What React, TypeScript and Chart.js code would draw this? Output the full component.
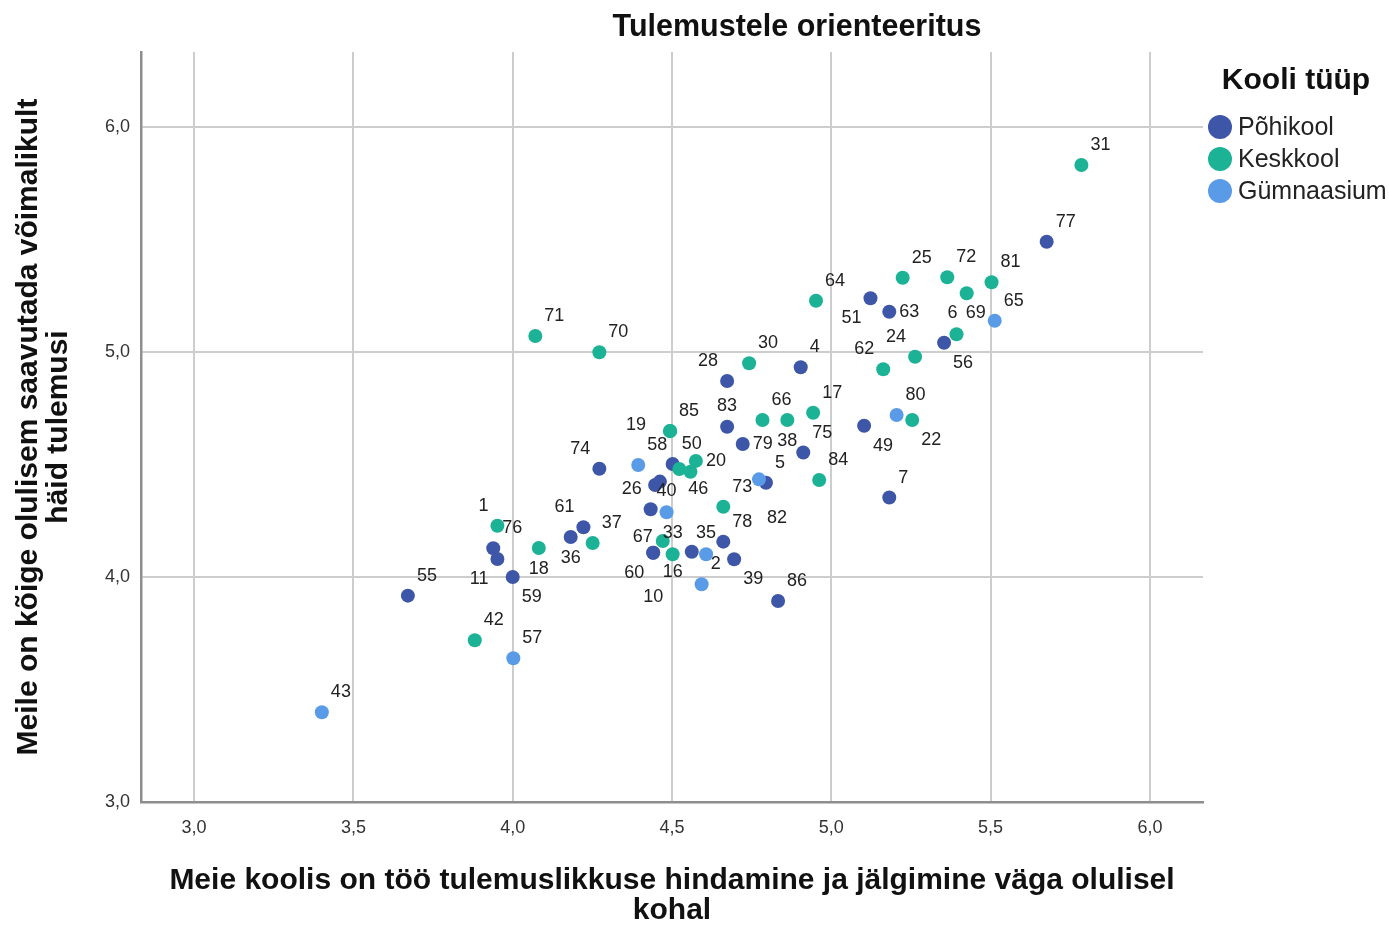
import React, { useEffect, useRef } from 'react';
import { Chart, registerables } from 'chart.js';

Chart.register(...registerables);

// ---------- DATA ----------
const chartTitle = 'Tulemustele orienteeritus';
const xAxisTitle = ['Meie koolis on töö tulemuslikkuse hindamine ja jälgimine väga olulisel', 'kohal'];
const yAxisTitle = ['Meile on kõige olulisem saavutada võimalikult', 'häid tulemusi'];
const legendTitle = 'Kooli tüüp';
const seriesNames = ['Põhikool', 'Keskkool', 'Gümnaasium'];

const xTickValues = [3.0, 3.5, 4.0, 4.5, 5.0, 5.5, 6.0];
const yTickValues = [3.0, 4.0, 5.0, 6.0];

// Põhikool
const pohikoolIds = ['55', '76', '11', '59', '36', '61', '74', '50', '', '', '26', '60', '10', '16', '78', '39', '86', '28', '83', '79', '4', '75', '5', '49', '7', '51', '63', '56', '77'];
const pohikoolX = [3.671, 3.939, 3.952, 4.0, 4.182, 4.222, 4.272, 4.502, 4.447, 4.462, 4.433, 4.441, 4.441, 4.562, 4.661, 4.695, 4.833, 4.673, 4.673, 4.722, 4.904, 4.912, 4.795, 5.103, 5.182, 5.123, 5.182, 5.354, 5.676];
const pohikoolY = [3.917, 4.128, 4.08, 4.0, 4.178, 4.221, 4.481, 4.502, 4.409, 4.424, 4.301, 4.108, 4.108, 4.112, 4.157, 4.079, 3.893, 4.871, 4.668, 4.591, 4.932, 4.553, 4.419, 4.672, 4.353, 5.239, 5.179, 5.041, 5.49];

// Keskkool
const keskkoolIds = ['42', '1', '18', '37', '71', '70', '85', '19', '46', '', '20', '67', '33', '73', '66', '38', '17', '84', '30', '64', '25', '72', '69', '81', '6', '24', '62', '22', '31'];
const keskkoolX = [3.881, 3.952, 4.082, 4.251, 4.071, 4.272, 4.494, 4.494, 4.523, 4.558, 4.575, 4.471, 4.502, 4.661, 4.784, 4.862, 4.943, 4.962, 4.742, 4.952, 5.224, 5.364, 5.425, 5.503, 5.393, 5.263, 5.163, 5.254, 5.785];
const keskkoolY = [3.719, 4.228, 4.129, 4.151, 5.071, 4.999, 4.649, 4.649, 4.48, 4.468, 4.516, 4.16, 4.101, 4.312, 4.698, 4.698, 4.73, 4.431, 4.95, 5.228, 5.33, 5.332, 5.261, 5.31, 5.079, 4.979, 4.923, 4.698, 5.831];

// Gümnaasium
const gymnaasiumIds = ['43', '57', '58', '40', '35', '2', '82', '80', '65'];
const gymnaasiumX = [3.401, 4.002, 4.394, 4.483, 4.607, 4.593, 4.773, 5.205, 5.513];
const gymnaasiumY = [3.399, 3.639, 4.498, 4.288, 4.101, 3.968, 4.434, 4.72, 5.139];

// ---------- LAYOUT / STYLE ----------
const pohikoolLabelPos = ['ne', 'ne', 'sw', 'se', 's', 'nw', 'nw', 'ne', '', '', 'nw', 'sw', 's2', 'sw', 'ne', 'se', 'ne', 'nw', 'n', 'e', 'ne', 'ne', 'ne', 'se', 'ne', 'sw', 'e', 'se', 'ne'];
const keskkoolLabelPos = ['ne', 'nw', 's', 'ne', 'ne', 'ne', 'ne', 'w2', 'se', '', 'e', 'w', 'n', 'ne', 'ne', 's', 'ne', 'ne', 'ne', 'ne', 'ne', 'ne', 'sse', 'ne', 'nnw', 'nw', 'nw', 'se', 'ne'];
const gymnaasiumLabelPos = ['ne', 'ne', 'ne', 'n', 'n', 'ne', 'se2', 'ne', 'ne'];

const seriesColors = ['#3E56A8', '#1CB295', '#5A9BE8'];
const FONT = "'Liberation Sans', Arial, Helvetica, sans-serif";

const labelOffsets: Record<string, { align: CanvasTextAlign; dx: number; dy: number }> = {
  ne: { align: 'left', dx: 9, dy: -20 },
  nw: { align: 'right', dx: -9, dy: -20 },
  se: { align: 'left', dx: 9, dy: 20 },
  sw: { align: 'right', dx: -9, dy: 20 },
  n: { align: 'center', dx: 0, dy: -21 },
  nnw: { align: 'center', dx: -4, dy: -21 },
  s: { align: 'center', dx: 0, dy: 21 },
  sse: { align: 'center', dx: 9, dy: 20 },
  e: { align: 'left', dx: 10, dy: 0 },
  w: { align: 'right', dx: -10, dy: -4 },
  s2: { align: 'center', dx: 0, dy: 44 },
  se2: { align: 'left', dx: 8, dy: 39 },
  w2: { align: 'right', dx: -24, dy: -6 },
};

const fmt = (v: number) => Number(v).toFixed(1).replace('.', ',');

const idsBySeries = [pohikoolIds, keskkoolIds, gymnaasiumIds];
const posBySeries = [pohikoolLabelPos, keskkoolLabelPos, gymnaasiumLabelPos];

const pointLabelPlugin = {
  id: 'pointLabels',
  afterDatasetsDraw(chart: any) {
    const ctx = chart.ctx;
    ctx.save();
    ctx.font = `18px ${FONT}`;
    ctx.fillStyle = '#222';
    ctx.textBaseline = 'middle';
    chart.data.datasets.forEach((ds: any, di: number) => {
      const meta = chart.getDatasetMeta(di);
      const ids = idsBySeries[ds.seriesIndex];
      const pos = posBySeries[ds.seriesIndex];
      meta.data.forEach((pt: any, i: number) => {
        const id = ids[i];
        const p = labelOffsets[pos[i]];
        if (!id || !p) return;
        ctx.textAlign = p.align;
        ctx.fillText(id, pt.x + p.dx, pt.y + p.dy);
      });
    });
    ctx.restore();
  },
};

const decorPlugin = {
  id: 'decor',
  afterDraw(chart: any) {
    const ctx = chart.ctx;
    ctx.save();
    // Title
    ctx.fillStyle = '#111';
    ctx.font = `bold 30.5px ${FONT}`;
    ctx.textAlign = 'center';
    ctx.textBaseline = 'middle';
    ctx.fillText(chartTitle, 797, 28);
    // Legend
    ctx.font = `bold 30px ${FONT}`;
    ctx.fillText(legendTitle, 1296, 81);
    ctx.textAlign = 'left';
    ctx.font = `25px ${FONT}`;
    seriesNames.forEach((name, i) => {
      const cy = 127 + i * 32;
      ctx.beginPath();
      ctx.arc(1220, cy, 12, 0, Math.PI * 2);
      ctx.fillStyle = seriesColors[i];
      ctx.fill();
      ctx.fillStyle = '#222';
      ctx.fillText(name, 1238, cy + 1);
    });
    ctx.restore();
  },
};

export default function App() {
  const ref = useRef<HTMLCanvasElement | null>(null);

  useEffect(() => {
    if (!ref.current) return;
    const mk = (xs: number[], ys: number[]) => xs.map((x, i) => ({ x, y: ys[i] }));
    const datasets = [
      { label: seriesNames[0], seriesIndex: 0, data: mk(pohikoolX, pohikoolY), backgroundColor: seriesColors[0], order: 3 },
      { label: seriesNames[1], seriesIndex: 1, data: mk(keskkoolX, keskkoolY), backgroundColor: seriesColors[1], order: 2 },
      { label: seriesNames[2], seriesIndex: 2, data: mk(gymnaasiumX, gymnaasiumY), backgroundColor: seriesColors[2], order: 1 },
    ].map((d) => ({ ...d, pointRadius: 7, pointHoverRadius: 7, borderWidth: 0, borderColor: d.backgroundColor }));

    const tickFont = { family: FONT, size: 18 };
    const titleFont = { family: FONT, size: 30, weight: 'bold' as const, lineHeight: 1.0 };

    const chart = new Chart(ref.current, {
      type: 'scatter',
      data: { datasets: datasets as any },
      plugins: [pointLabelPlugin, decorPlugin],
      options: {
        animation: false,
        responsive: false,
        layout: { padding: { left: 0, top: 52, right: 186, bottom: 0 } },
        plugins: { legend: { display: false }, title: { display: false }, tooltip: { enabled: false } },
        scales: {
          x: {
            type: 'linear',
            min: 2.8333,
            max: 6.1667,
            afterBuildTicks: (s: any) => { s.ticks = xTickValues.map((v) => ({ value: v })); },
            afterFit: (s: any) => { s.height = 124; },
            grid: { color: '#cdcdcd', lineWidth: 2, drawTicks: false },
            border: { display: true, color: '#8e8e8e', width: 2.5 },
            ticks: { padding: 15, autoSkip: false, maxRotation: 0, color: '#333', font: tickFont, callback: (v: any) => fmt(v) },
            title: { display: true, text: xAxisTitle, color: '#111', font: titleFont, padding: { top: 0, bottom: 0 } },
          },
          y: {
            type: 'linear',
            min: 3.0,
            max: 6.3333,
            afterBuildTicks: (s: any) => { s.ticks = yTickValues.map((v) => ({ value: v })); },
            afterFit: (s: any) => { s.width = 141; },
            grid: { color: '#cdcdcd', lineWidth: 2, drawTicks: false },
            border: { display: true, color: '#8e8e8e', width: 2.5 },
            ticks: { padding: 11, autoSkip: false, color: '#333', font: tickFont, callback: (v: any) => fmt(v) },
            title: { display: true, text: yAxisTitle, color: '#111', font: titleFont, padding: { top: 14, bottom: 0 } },
          },
        },
      } as any,
    });
    return () => chart.destroy();
  }, []);

  return (
    <div style={{ position: 'absolute', left: 0, top: 0, width: 1389, height: 926, background: '#fff' }}>
      <canvas ref={ref} width={1389} height={926} style={{ display: 'block' }} />
    </div>
  );
}
